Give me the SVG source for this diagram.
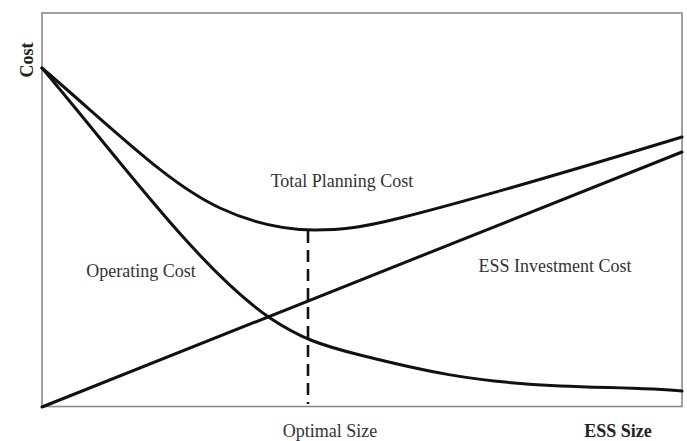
<svg xmlns="http://www.w3.org/2000/svg" width="687" height="441" viewBox="0 0 687 441">
<style>
.frame{fill:none;stroke:#8a8a8a;stroke-width:1.6}
.curve{fill:none;stroke:#111;stroke-width:3;stroke-linecap:round;stroke-linejoin:round}
.dash{fill:none;stroke:#111;stroke-width:2.6;stroke-dasharray:12 7}
.lbl{font-family:"Liberation Serif","Times New Roman",serif;font-size:18px;fill:#333;text-anchor:middle}
.bold{font-weight:bold;fill:#222}
</style>
<rect width="687" height="441" fill="#fff"/>
<g id="axes">
<rect class="frame" x="42" y="13" width="640" height="393.5"/>
<text class="lbl bold" transform="translate(33,60) rotate(-90)">Cost</text>
<text class="lbl bold" x="618" y="437">ESS Size</text>
<text class="lbl" x="330" y="437">Optimal Size</text>
</g>
<g id="connectors">
<path id="total-planning-cost" class="curve" d="M42,68 C120,135 170,185 220,208 C250,222 280,230 315,230 C340,230 360,228 400,218 C480,198 580,168 682,137"/>
<path id="operating-cost" class="curve" d="M42,68 C120,160 200,270 270,318 C300,338 320,345 360,355 C420,370 470,382 560,386 C610,388 650,388 682,391"/>
<path id="ess-investment-cost" class="curve" d="M42,407 L682,152"/>
<path id="optimal-line" class="dash" d="M308,231 L308,404"/>
</g>
<g id="labels">
<text class="lbl" x="342" y="187">Total Planning Cost</text>
<text class="lbl" x="141" y="277">Operating Cost</text>
<text class="lbl" x="555" y="272">ESS Investment Cost</text>
</g>
</svg>
